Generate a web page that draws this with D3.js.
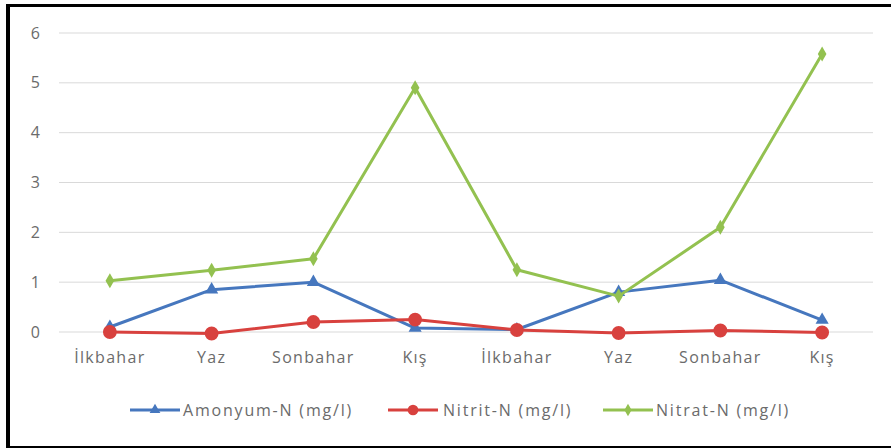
<!DOCTYPE html>
<html>
<head>
<meta charset="utf-8">
<script src="https://cdn.jsdelivr.net/npm/d3@7"></script>
<style>
  html, body { margin: 0; padding: 0; background: #fff; }
  svg { display: block; font-family: "Open Sans", Calibri, sans-serif; }
</style>
</head>
<body>
<svg id="chart" width="891" height="448"></svg>
<script>
// Seasonal nitrogen species over two years
const categories = ["İlkbahar", "Yaz", "Sonbahar", "Kış", "İlkbahar", "Yaz", "Sonbahar", "Kış"];
const amonyum = [0.10, 0.85, 1.00, 0.08, 0.05, 0.80, 1.04, 0.24];
const nitrit  = [0.00, -0.03, 0.20, 0.25, 0.04, -0.02, 0.03, -0.01];
const nitrat  = [1.03, 1.24, 1.47, 4.90, 1.25, 0.72, 2.10, 5.58];
const yTicks = [0, 1, 2, 3, 4, 5, 6];
const seriesNames = ["Amonyum-N (mg/l)", "Nitrit-N (mg/l)", "Nitrat-N (mg/l)"];

const series = [
  { name: seriesNames[0], values: amonyum, color: "#4677BE", marker: "triangle" },
  { name: seriesNames[1], values: nitrit,  color: "#D8413E", marker: "circle" },
  { name: seriesNames[2], values: nitrat,  color: "#93C150", marker: "diamond" }
];

const textColor = "#6b6b6b";
const svg = d3.select("#chart");

// outer frame (left, top, bottom)
svg.append("rect").attr("x", 6).attr("y", 4).attr("width", 885).attr("height", 3).attr("fill", "#000");
svg.append("rect").attr("x", 6).attr("y", 4).attr("width", 4).attr("height", 444).attr("fill", "#000");
svg.append("rect").attr("x", 6).attr("y", 446).attr("width", 885).attr("height", 2).attr("fill", "#000");

const plot = { left: 59, right: 873, top: 33, bottom: 332 };

const x = d3.scaleBand()
  .domain(d3.range(categories.length))
  .range([plot.left, plot.right]);

const y = d3.scaleLinear()
  .domain([0, 6])
  .range([plot.bottom, plot.top]);

// horizontal gridlines
svg.append("g")
  .selectAll("line")
  .data(yTicks)
  .join("line")
  .attr("x1", plot.left).attr("x2", plot.right)
  .attr("y1", d => y(d)).attr("y2", d => y(d))
  .attr("stroke", "#D9D9D9").attr("stroke-width", 1);

// y axis labels
const yAxis = svg.append("g")
  .attr("transform", `translate(40,0)`)
  .call(d3.axisLeft(y).tickValues(yTicks).tickSize(0).tickPadding(0).tickFormat(d3.format("d")));
yAxis.select(".domain").remove();
yAxis.selectAll("text")
  .attr("fill", textColor).attr("font-size", 16)
  .attr("font-family", "'Open Sans', sans-serif");

// x axis labels
const xAxis = svg.append("g")
  .attr("transform", `translate(0,${plot.bottom + 20})`)
  .call(d3.axisBottom(x).tickSize(0).tickPadding(0).tickFormat(i => categories[i]));
xAxis.select(".domain").remove();
xAxis.selectAll("text")
  .attr("fill", textColor).attr("font-size", 16)
  .attr("letter-spacing", "1.3px")
  .attr("dy", "0.7em")
  .attr("font-family", "'Open Sans', sans-serif");

const cx = i => x(i) + x.bandwidth() / 2;

const line = d3.line()
  .x((d, i) => cx(i))
  .y(d => y(d));

const symbolFor = {
  triangle: d3.symbol().type(d3.symbolTriangle).size(75),
  circle: d3.symbol().type(d3.symbolCircle).size(150),
  diamond: d3.symbol().type(d3.symbolDiamond).size(65)
};

series.forEach(s => {
  const g = svg.append("g");
  g.append("path")
    .datum(s.values)
    .attr("d", line)
    .attr("fill", "none")
    .attr("stroke", s.color)
    .attr("stroke-width", 3)
    .attr("stroke-linejoin", "round");
  g.selectAll("path.marker")
    .data(s.values)
    .join("path")
    .attr("class", "marker")
    .attr("d", symbolFor[s.marker])
    .attr("transform", (d, i) => `translate(${cx(i)},${y(d)})`)
    .attr("fill", s.color);
});

// legend
const legendItems = [
  { x: 130, text: 183 },
  { x: 388, text: 443 },
  { x: 603, text: 656 }
];
const legendY = 410;
const legend = svg.append("g");
series.forEach((s, i) => {
  const it = legendItems[i];
  const g = legend.append("g");
  g.append("line")
    .attr("x1", it.x).attr("x2", it.x + 50)
    .attr("y1", legendY).attr("y2", legendY)
    .attr("stroke", s.color).attr("stroke-width", 3);
  const size = s.marker === "circle" ? 90 : (s.marker === "triangle" ? 50 : 45);
  g.append("path")
    .attr("d", d3.symbol().type(s.marker === "circle" ? d3.symbolCircle : s.marker === "triangle" ? d3.symbolTriangle : d3.symbolDiamond).size(size))
    .attr("transform", `translate(${it.x + 25},${legendY})`)
    .attr("fill", s.color);
  g.append("text")
    .attr("x", it.text).attr("y", legendY)
    .attr("dy", "0.35em")
    .attr("fill", textColor).attr("font-size", 16)
    .attr("letter-spacing", "1.8px")
    .attr("font-family", "'Open Sans', sans-serif")
    .text(s.name);
});
</script>
</body>
</html>
